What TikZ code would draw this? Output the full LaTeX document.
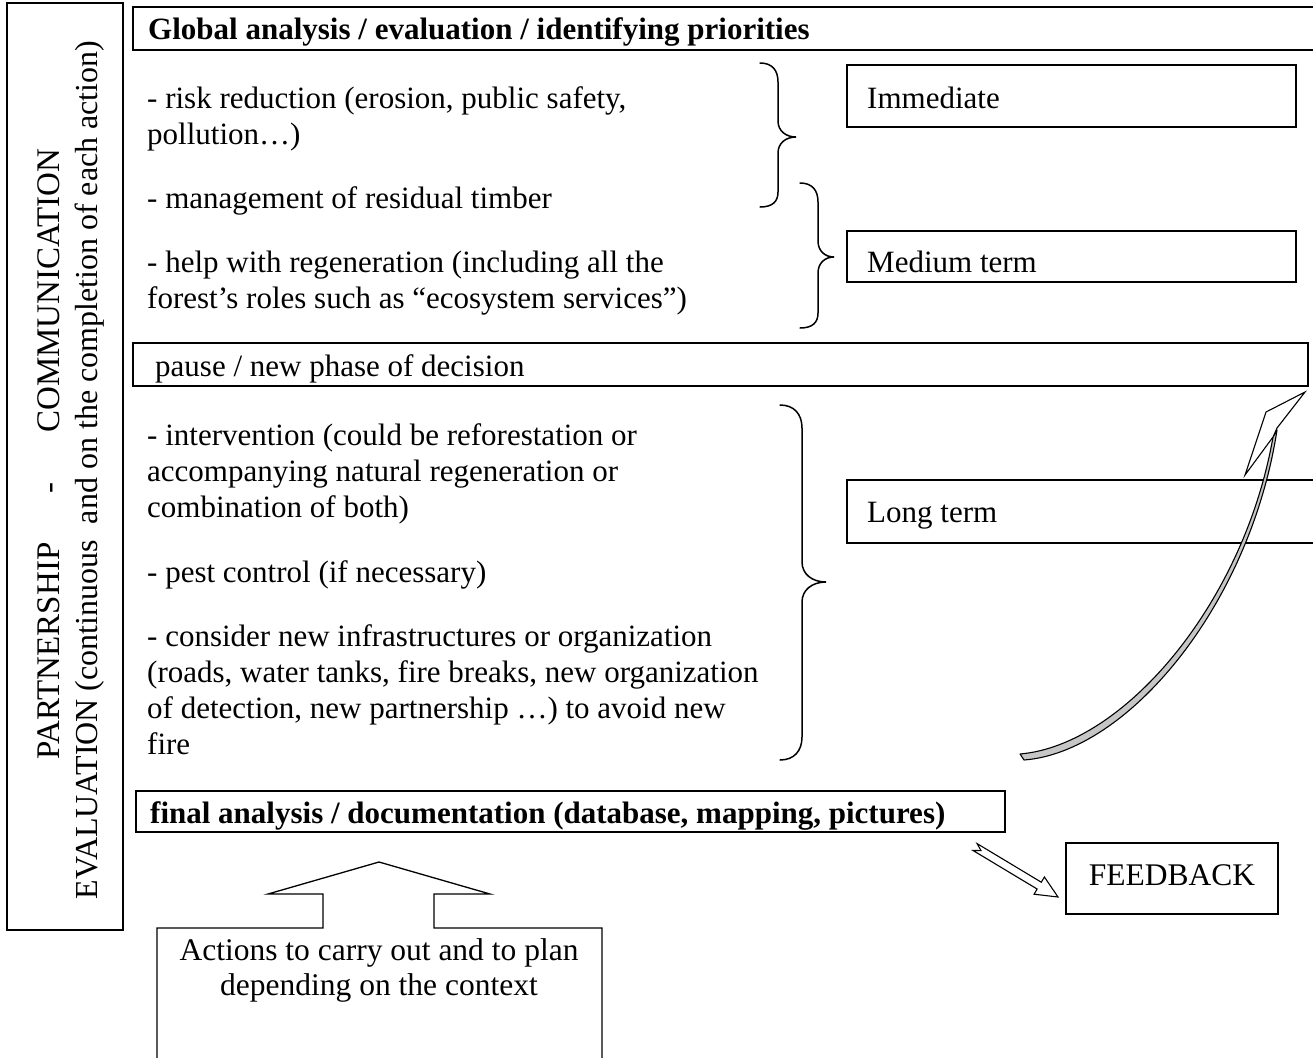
\documentclass[tikz,border=0pt]{standalone}
\usepackage{fontspec}
\setmainfont{Liberation Serif}
\begin{document}
\begin{tikzpicture}[x=1pt,y=-1pt,
  txt/.style={inner sep=0pt, anchor=base west, font=\fontsize{31pt}{36pt}\selectfont},
  btxt/.style={inner sep=0pt, anchor=base west, font=\fontsize{31pt}{36pt}\selectfont\bfseries},
  ctxt/.style={inner sep=0pt, anchor=base, font=\fontsize{31.5pt}{36pt}\selectfont},
  vtxt/.style={inner sep=0pt, anchor=base, rotate=90, font=\fontsize{32pt}{36pt}\selectfont},
  ln/.style={line width=1.3pt},
  tbox/.style={line width=2.2pt},
  brace/.style={line width=1.5pt, line cap=round}
]
\useasboundingbox (0,0) rectangle (1313,1057);
\begin{scope}
\clip (0,0) rectangle (1313,1057);

% left vertical box
\draw[ln] (7,3) rectangle (123,930);
\node[vtxt, font=\fontsize{33pt}{36pt}\selectfont] (vl1) at (59,454) {PARTNERSHIP\hspace{1.5em}-\hspace{1.5em}COMMUNICATION};
\node[vtxt] (vl2) at (97,470) {EVALUATION (continuous\ \ and on the completion of each action)};

% global box (open right)
\draw[ln] (1313,7) -- (133,7) -- (133,50) -- (1313,50);
\node[btxt] (glob) at (148,40) {Global analysis / evaluation / identifying priorities};

% first group
\node[txt] (r1a) at (147,108) {- risk reduction (erosion, public safety,};
\node[txt] (r1b) at (147,144) {pollution\ldots)};
\node[txt] (r2) at (147,208) {- management of residual timber};
\node[txt] (r3a) at (147,272) {- help with regeneration (including all the};
\node[txt] (r3b) at (147,308) {forest’s roles such as “ecosystem services”)};

% braces
\draw[brace] (760,63) .. controls (772,63) and (778,70) .. (778,82) -- (778,121)
  .. controls (778,131) and (786,137) .. (796,137)
  .. controls (786,137) and (778,143) .. (778,153) -- (778,192)
  .. controls (778,202) and (772,207) .. (760,207);
\draw[brace] (800,183) .. controls (812,183) and (818,190) .. (818,202) -- (818,241)
  .. controls (818,251) and (825,257) .. (834,257)
  .. controls (825,257) and (818,263) .. (818,273) -- (818,313)
  .. controls (818,323) and (812,328) .. (800,328);
\draw[brace] (780,405) .. controls (794,405) and (802,414) .. (802,428) -- (802,562)
  .. controls (802,574) and (812,582) .. (826,582)
  .. controls (812,582) and (802,590) .. (802,602) -- (802,737)
  .. controls (802,751) and (794,760) .. (780,760);

% term boxes
\draw[tbox] (847,65) rectangle (1296,127);
\node[txt] (imm) at (867,108) {Immediate};
\draw[tbox] (847,231) rectangle (1296,282);
\node[txt] (med) at (867,272) {Medium term};

% pause box
\draw[ln] (133,343) rectangle (1308,386);
\node[txt] (pause) at (155,376) {pause / new phase of decision};

% second group
\node[txt] (s1a) at (147,445) {- intervention (could be reforestation or};
\node[txt] (s1b) at (147,481) {accompanying natural regeneration or};
\node[txt] (s1c) at (147,517) {combination of both)};
\node[txt] (s2) at (147,582) {- pest control (if necessary)};
\node[txt] (s3a) at (147,646) {- consider new infrastructures or organization};
\node[txt] (s3b) at (147,682) {(roads, water tanks, fire breaks, new organization};
\node[txt] (s3c) at (147,718) {of detection, new partnership \ldots) to avoid new};
\node[txt] (s3d) at (147,754) {fire};

% long term box
\draw[ln] (1330,480) -- (847,480) -- (847,543) -- (1330,543);
\node[txt] (long) at (867,522) {Long term};

% final box
\draw[ln] (136,791) rectangle (1005,832);
\node[btxt] (final) at (150,823) {final analysis / documentation (database, mapping, pictures)};

% curved arrow
\draw[line width=1.1pt, fill=gray!45, line join=round]
  (1024,760) .. controls (1128,752) and (1250,605) .. (1277,430)
  -- (1273,437) .. controls (1244,603) and (1124,745) .. (1020,754) -- cycle;
\draw[line width=1.1pt, fill=white, line join=miter]
  (1273,437) -- (1245,475) -- (1266,412) -- (1305,392) -- (1277,428) -- cycle;

% feedback arrow
\draw[line width=1.1pt, fill=white]
  (977.1,843.6) -- (1041.3,882.2) -- (1044.4,877.0) -- (1058,897)
  -- (1034.1,894.2) -- (1037.1,889.0) -- (972.9,850.4) -- (981,850.6) -- cycle;
\draw[ln] (1066,843) rectangle (1278,914);
\node[ctxt] (fb) at (1172,885) {FEEDBACK};

% bottom up-arrow box
\draw[ln] (157,1060) -- (157,928) -- (323,928) -- (323,894) -- (268,894)
  -- (379,862) -- (490,894) -- (434,894) -- (434,928) -- (602,928) -- (602,1060);
\node[ctxt] (act1) at (379,960) {Actions to carry out and to plan};
\node[ctxt] (act2) at (379,995) {depending on the context};
\end{scope}
\end{tikzpicture}
\end{document}
